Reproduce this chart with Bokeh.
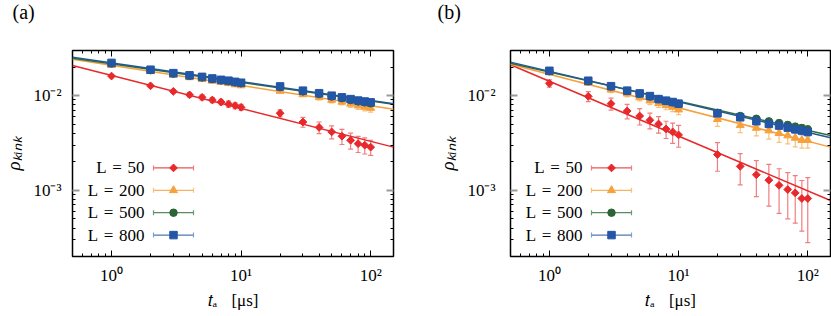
import math
from bokeh.plotting import figure
from bokeh.models import (Range1d, FixedTicker, LogAxis, Whisker, TeeHead, Title,
                          ColumnDataSource, Label, CustomJSTickFormatter)
from bokeh.layouts import row
from bokeh.embed import file_html
from bokeh.resources import INLINE

# ---------------- data ----------------
t_a = [1, 2, 3, 4, 5, 6, 7, 8, 9, 10, 20, 30, 40, 50, 60, 70, 80, 90, 100]
legend_labels = ["L\u2004=\u200450", "L\u2004=\u2004200", "L\u2004=\u2004500", "L\u2004=\u2004800"]
x_label = "\U0001d461\u2090\u2002\u2004[\u03bcs]"
y_label = "\u03c1\u2096\u1d62\u2099\u2096"
panel_tags = ["(a)", "(b)"]

# panel (a)
rho_a_50 = [0.0161, 0.0127, 0.0111, 0.0102, 0.0096, 0.0090, 0.00857, 0.00816, 0.00785, 0.00753,
            0.00652, 0.00527, 0.00462, 0.00414, 0.00373, 0.00338, 0.00311, 0.00300, 0.00286]
err_a_50 = [0.0006, 0.00046, 0.0004, 0.00049, 0.00058, 0.00054, 0.0006, 0.0006, 0.00057, 0.00055,
            0.00055, 0.00063, 0.00065, 0.00065, 0.00068, 0.00065, 0.0006, 0.00058, 0.00052]
rho_a_200 = [0.0210, 0.0181, 0.0166, 0.0156, 0.0149, 0.0143, 0.0139, 0.0135, 0.0131, 0.0128,
             0.0112, 0.0103, 0.0096, 0.0090, 0.0086, 0.0082, 0.00785, 0.0076, 0.0074]
err_a_200 = [0.0004, 0.0004, 0.0004, 0.0004, 0.0004, 0.0004, 0.0004, 0.0004, 0.0004, 0.0004,
             0.0005, 0.0005, 0.0006, 0.0006, 0.0006, 0.0007, 0.0007, 0.0007, 0.0007]
rho_a_500 = [0.0219, 0.0186, 0.0171, 0.0162, 0.0156, 0.0150, 0.0145, 0.0142, 0.0138, 0.0135,
             0.0123, 0.0111, 0.0104, 0.0098, 0.0094, 0.0090, 0.0087, 0.0085, 0.0083]
err_a_500 = [0.0003] * 19
rho_a_800 = [0.0222, 0.0188, 0.0173, 0.0164, 0.0158, 0.0152, 0.0147, 0.0144, 0.0140, 0.0137,
             0.01253, 0.0113, 0.01062, 0.0100, 0.0096, 0.0092, 0.00888, 0.00868, 0.0085]
err_a_800 = [0.0003] * 19
# fitted power laws: value at t = 0.5 and at t = 150
fit_a_start = [0.0208, 0.0243, 0.0249, 0.0255]
fit_a_end = [0.00286, 0.0072, 0.0081, 0.0082]

# panel (b)
rho_b_50 = [0.0135, 0.00983, 0.00824, 0.00689, 0.0061, 0.0055, 0.00502, 0.00445, 0.00414, 0.00385,
            0.00239, 0.00179, 0.00146, 0.00128, 0.00113, 0.00102, 0.00094, 0.00082, 0.00082]
err_b_50 = [0.0012, 0.0012, 0.0012, 0.0012, 0.0012, 0.00105, 0.001, 0.00092, 0.001, 0.001,
            0.0008, 0.00065, 0.0006, 0.0006, 0.00056, 0.00052, 0.00049, 0.00045, 0.00054]
rho_b_200 = [0.0176, 0.0136, 0.01157, 0.0105, 0.0096, 0.00886, 0.0083, 0.0079, 0.00759, 0.00712,
             0.00564, 0.00487, 0.00456, 0.00428, 0.00401, 0.00379, 0.00358, 0.00339, 0.00339]
err_b_200 = [0.0006, 0.0007, 0.0008, 0.0008, 0.0008, 0.0008, 0.0008, 0.0008, 0.0008, 0.0008,
             0.0009, 0.0008, 0.0008, 0.0008, 0.0008, 0.0007, 0.0007, 0.0006, 0.0006]
rho_b_500 = [0.0181, 0.0142, 0.0125, 0.0112, 0.0105, 0.0098, 0.0092, 0.0088, 0.0085, 0.0082,
             0.0066, 0.0061, 0.0057, 0.00535, 0.00513, 0.0049, 0.0047, 0.00455, 0.0044]
err_b_500 = [0.0004] * 19
rho_b_800 = [0.0183, 0.01438, 0.0126, 0.0113, 0.01057, 0.0099, 0.0092, 0.00886, 0.00857, 0.00824,
             0.00651, 0.00591, 0.00537, 0.00503, 0.00483, 0.0046, 0.00441, 0.00428, 0.00414]
err_b_800 = [0.0004] * 19
fit_b_start = [0.0212, 0.0215, 0.0220, 0.0226]
fit_b_end = [0.00078, 0.00286, 0.0038, 0.0036]

X_RANGE = (0.5, 150)
Y_RANGE = (2e-4, 3e-2)

# ---------------- styles ----------------
FONT = "Liberation Serif"
MARK_COL = ["#e8282b", "#f7a13c", "#2c6436", "#2456a6"]
ERR_COL = ["#f07e80", "#f9bf7c", "#6b9a72", "#7c9fd8"]
LINE_COL = ["#e8282b", "#f5a03a", "#2f6e3c", "#235892"]
MARKERS = ["square", "triangle", "circle", "square"]
ANGLES = [math.pi / 4, 0, 0, 0]
MSIZE = [5.5, 8, 7.5, 7.5]

SUP_CODE = """
const sup = {"-":"\u207b","0":"\u2070","1":"\u00b9","2":"\u00b2","3":"\u00b3","4":"\u2074",
             "5":"\u2075","6":"\u2076","7":"\u2077","8":"\u2078","9":"\u2079"};
const e = Math.round(Math.log10(tick));
return "10" + String(e).split("").map(c => sup[c]).join("");
"""


def x_ticker():
    return FixedTicker(ticks=[0.1, 1, 10, 100, 1000],
                       minor_ticks=[m * 10.0 ** k for k in (-1, 0, 1, 2) for m in range(2, 10)])


def y_ticker():
    return FixedTicker(ticks=[1e-4, 1e-3, 1e-2, 1e-1],
                       minor_ticks=[m * 10.0 ** k for k in (-4, -3, -2) for m in range(2, 10)])


def style_axis(ax, vertical, mode, standoff):
    ax.axis_line_color = None
    ax.major_tick_out = 0
    ax.minor_tick_out = 0
    ax.minor_tick_in = 3
    ax.minor_tick_line_color = "black"
    ax.minor_tick_line_width = 1
    if vertical:
        ax.major_tick_in = 7
        ax.major_tick_line_color = "#9a9a9a"
        ax.major_tick_line_width = 2
    else:
        ax.major_tick_in = 6
        ax.major_tick_line_color = "black"
        ax.major_tick_line_width = 1
    ax.major_label_text_font = FONT
    ax.major_label_text_color = "black"
    ax.axis_label_text_font = FONT
    ax.axis_label_text_color = "black"
    ax.axis_label_text_font_style = "normal"
    ax.major_label_standoff = standoff
    if mode == "labels":
        ax.formatter = CustomJSTickFormatter(code=SUP_CODE)
        ax.major_label_text_font_size = "17px"
    elif mode == "spacer":
        ax.formatter = CustomJSTickFormatter(code="return '\u00a0';")
        ax.major_label_text_font_size = "1px"
    else:
        ax.formatter = CustomJSTickFormatter(code="return '';")
        ax.major_label_text_font_size = "1px"


def panel(tag, rhos, errs, fit_start, fit_end, width, bl, br, frame_w, ystandoff, tag_dx):
    frame_h = 207
    p = figure(width=width, height=316, x_axis_type="log", y_axis_type="log",
               x_range=Range1d(*X_RANGE), y_range=Range1d(*Y_RANGE),
               output_backend="svg", toolbar_location=None,
               min_border_left=bl, min_border_right=br, min_border_top=49, min_border_bottom=60)
    p.xgrid.visible = False
    p.ygrid.visible = False
    p.outline_line_color = "black"
    p.outline_line_width = 1.5
    p.background_fill_color = "white"
    p.border_fill_color = "white"

    p.xaxis.ticker = x_ticker()
    p.yaxis.ticker = y_ticker()
    style_axis(p.xaxis[0], False, "labels", 9)
    style_axis(p.yaxis[0], True, "labels", ystandoff)
    p.xaxis.axis_label = x_label
    p.xaxis.axis_label_text_font_size = "17px"
    p.xaxis.axis_label_standoff = 3
    p.yaxis.axis_label = y_label
    p.yaxis.axis_label_text_font_size = "19px"
    p.yaxis.axis_label_text_font_style = "italic"
    p.yaxis.axis_label_standoff = 6

    top = LogAxis(ticker=x_ticker())
    style_axis(top, False, "spacer", 22)
    p.add_layout(top, "above")
    right = LogAxis(ticker=y_ticker())
    style_axis(right, True, "none", 0)
    p.add_layout(right, "right")

    # panel tag, placed above the frame
    p.add_layout(Title(text=tag, align="left", offset=tag_dx, standoff=0, vertical_align="top",
                       text_font=FONT, text_font_size="20px", text_font_style="normal",
                       text_color="black"), "above")

    # fit lines
    for i in range(4):
        p.line(list(X_RANGE), [fit_start[i], fit_end[i]], line_color=LINE_COL[i], line_width=1.5)

    # error bars + markers
    for i in range(4):
        lo = [r - e for r, e in zip(rhos[i], errs[i])]
        up = [r + e for r, e in zip(rhos[i], errs[i])]
        src = ColumnDataSource(dict(t=t_a, lo=lo, up=up))
        w = Whisker(source=src, base="t", lower="lo", upper="up", dimension="height",
                    line_color=ERR_COL[i], line_width=1.2, level="underlay",
                    upper_head=TeeHead(size=5, line_color=ERR_COL[i], line_width=1.2),
                    lower_head=TeeHead(size=5, line_color=ERR_COL[i], line_width=1.2))
        p.add_layout(w)
    for i in range(4):
        p.scatter(t_a, rhos[i], marker=MARKERS[i], size=MSIZE[i], angle=ANGLES[i],
                  fill_color=MARK_COL[i], line_color=MARK_COL[i], line_width=1)

    # legend (positions in frame pixels converted to data space)
    lx0, lx1 = math.log10(X_RANGE[0]), math.log10(X_RANGE[1])
    ly0, ly1 = math.log10(Y_RANGE[0]), math.log10(Y_RANGE[1])

    def xd(px):
        return 10 ** (lx0 + px / frame_w * (lx1 - lx0))

    def yd(py_from_top):
        return 10 ** (ly1 - py_from_top / frame_h * (ly1 - ly0))

    rows = [118, 140.5, 163, 185.5]
    for i in range(4):
        yy = yd(rows[i])
        src = ColumnDataSource(dict(y=[yy], lo=[xd(81)], up=[xd(121)]))
        w = Whisker(source=src, base="y", lower="lo", upper="up", dimension="width",
                    line_color=LINE_COL[i], line_width=1.2, line_alpha=0.8,
                    upper_head=TeeHead(size=5, line_color=ERR_COL[i], line_width=1.2),
                    lower_head=TeeHead(size=5, line_color=ERR_COL[i], line_width=1.2))
        p.add_layout(w)
        p.scatter([xd(101)], [yy], marker=MARKERS[i], size=MSIZE[i], angle=ANGLES[i],
                  fill_color=MARK_COL[i], line_color=MARK_COL[i], line_width=1)
        p.add_layout(Label(x=72, y=frame_h - rows[i], x_units="screen", y_units="screen",
                           text=legend_labels[i], text_font=FONT, text_font_size="17px",
                           text_align="right", text_baseline="middle", text_color="black"))
    return p


pa = panel(panel_tags[0], [rho_a_50, rho_a_200, rho_a_500, rho_a_800],
           [err_a_50, err_a_200, err_a_500, err_a_800], fit_a_start, fit_a_end,
           width=420, bl=72, br=27, frame_w=321, ystandoff=11, tag_dx=-60)
pb = panel(panel_tags[1], [rho_b_50, rho_b_200, rho_b_500, rho_b_800],
           [err_b_50, err_b_200, err_b_500, err_b_800], fit_b_start, fit_b_end,
           width=411, bl=90, br=1, frame_w=320, ystandoff=15, tag_dx=-73)

layout = row(pa, pb)
open("out.html", "w").write(file_html(layout, INLINE))
